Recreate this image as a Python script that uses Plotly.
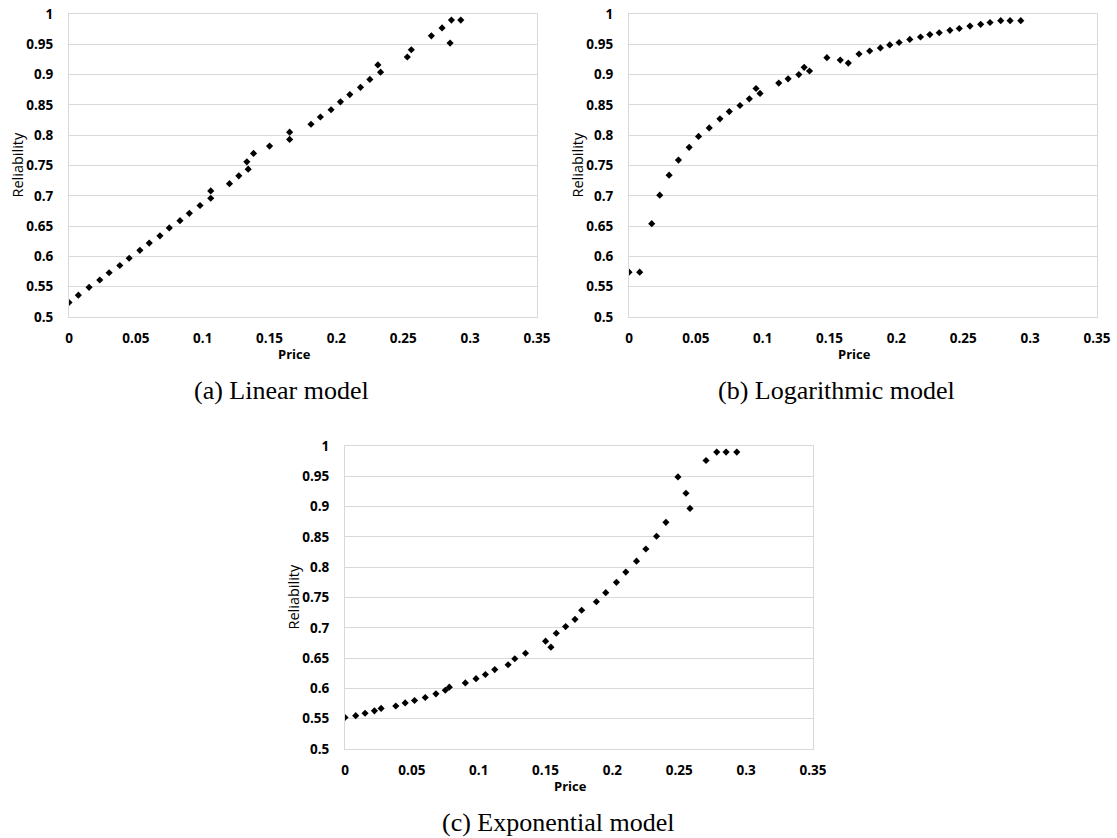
import plotly.graph_objects as go

# ---------------- data ----------------
lin_price = [0.000, 0.007, 0.015, 0.023, 0.030, 0.038, 0.045, 0.053, 0.060, 0.068,
             0.075, 0.083, 0.090, 0.098, 0.106, 0.106, 0.120, 0.127, 0.134, 0.133,
             0.138, 0.150, 0.165, 0.165, 0.181, 0.188, 0.196, 0.203, 0.210, 0.218,
             0.225, 0.231, 0.233, 0.253, 0.256, 0.271, 0.279, 0.285, 0.286, 0.293]
lin_rel = [0.524, 0.536, 0.549, 0.561, 0.573, 0.585, 0.597, 0.610, 0.622, 0.634,
           0.647, 0.659, 0.671, 0.684, 0.696, 0.708, 0.720, 0.733, 0.744, 0.756,
           0.770, 0.782, 0.805, 0.793, 0.818, 0.830, 0.842, 0.855, 0.867, 0.879,
           0.892, 0.916, 0.904, 0.929, 0.941, 0.964, 0.977, 0.952, 0.990, 0.990]

log_price = [0.000, 0.008, 0.017, 0.023, 0.030, 0.037, 0.045, 0.052, 0.060, 0.068,
             0.075, 0.083, 0.090, 0.095, 0.098, 0.112, 0.119, 0.127, 0.131, 0.135,
             0.148, 0.158, 0.164, 0.172, 0.180, 0.188, 0.195, 0.202, 0.210, 0.218,
             0.225, 0.232, 0.240, 0.247, 0.255, 0.263, 0.270, 0.278, 0.285, 0.293]
log_rel = [0.574, 0.574, 0.654, 0.701, 0.734, 0.759, 0.780, 0.798, 0.812, 0.827,
           0.839, 0.849, 0.860, 0.877, 0.869, 0.886, 0.893, 0.900, 0.912, 0.906,
           0.928, 0.924, 0.919, 0.934, 0.939, 0.944, 0.949, 0.953, 0.958, 0.962,
           0.966, 0.969, 0.973, 0.976, 0.980, 0.983, 0.986, 0.989, 0.989, 0.989]

exp_price = [0.000, 0.008, 0.015, 0.022, 0.027, 0.038, 0.045, 0.052, 0.060, 0.068,
             0.075, 0.078, 0.090, 0.098, 0.105, 0.112, 0.122, 0.127, 0.135, 0.150,
             0.154, 0.158, 0.165, 0.172, 0.177, 0.188, 0.195, 0.203, 0.210, 0.218,
             0.225, 0.233, 0.240, 0.249, 0.255, 0.258, 0.270, 0.278, 0.285, 0.293]
exp_rel = [0.552, 0.555, 0.559, 0.563, 0.567, 0.571, 0.576, 0.580, 0.585, 0.591,
           0.597, 0.602, 0.609, 0.616, 0.623, 0.631, 0.639, 0.649, 0.658, 0.678,
           0.668, 0.691, 0.702, 0.714, 0.729, 0.743, 0.758, 0.775, 0.792, 0.810,
           0.830, 0.851, 0.874, 0.949, 0.922, 0.897, 0.976, 0.990, 0.990, 0.990]

x_tick_vals = [0, 0.05, 0.1, 0.15, 0.2, 0.25, 0.3, 0.35]
x_tick_text = ["0", "0.05", "0.1", "0.15", "0.2", "0.25", "0.3", "0.35"]
y_tick_vals = [0.5, 0.55, 0.6, 0.65, 0.7, 0.75, 0.8, 0.85, 0.9, 0.95, 1]
y_tick_text = ["0.5", "0.55", "0.6", "0.65", "0.7", "0.75", "0.8", "0.85", "0.9", "0.95", "1"]

captions = ["(a) Linear model", "(b) Logarithmic model", "(c) Exponential model"]
x_title = "Price"
y_title = "Reliability"

# ---------------- layout ----------------
W, H = 1117, 838
# plot areas in pixels: (left, right, top, bottom)
areas = [(69, 537, 14, 317), (629, 1097, 14, 317), (345, 813, 446, 749)]

def px(x):
    return x / W

def py(y):
    return 1 - y / H

fig = go.Figure()
series = [(lin_price, lin_rel), (log_price, log_rel), (exp_price, exp_rel)]

tick_font = dict(family="Open Sans", size=13.5, color="#000000", weight="bold")
grid_col = "#d9d9d9"

for i, ((xs, ys), (l, r, t, b)) in enumerate(zip(series, areas)):
    n = "" if i == 0 else str(i + 1)
    fig.add_trace(go.Scatter(
        x=xs, y=ys, mode="markers",
        marker=dict(symbol="diamond", size=5.5, color="#000000"),
        xaxis="x" + n, yaxis="y" + n, showlegend=False,
    ))
    fig.layout["xaxis" + n] = dict(
        domain=[px(l), px(r)], anchor="y" + n, range=[0, 0.35],
        tickvals=x_tick_vals, ticktext=x_tick_text, tickfont=tick_font,
        showgrid=False, zeroline=False, showline=True, mirror=True,
        linecolor=grid_col, linewidth=1, ticks="", ticklabelstandoff=9,
        automargin=False, fixedrange=True,
    )
    fig.layout["yaxis" + n] = dict(
        domain=[py(b), py(t)], anchor="x" + n, range=[0.5, 1.0],
        tickvals=y_tick_vals, ticktext=y_tick_text, tickfont=tick_font,
        showgrid=True, gridcolor=grid_col, gridwidth=1, zeroline=False,
        showline=True, mirror=True, linecolor=grid_col, linewidth=1,
        ticks="", ticklabelstandoff=12, automargin=False, fixedrange=True,
    )
    cx = (l + r) / 2
    # axis titles
    fig.add_annotation(text=x_title, x=px(cx - 9), y=py(b + 37), xref="paper", yref="paper",
                       showarrow=False, xanchor="center", yanchor="middle",
                       font=dict(family="Open Sans", size=13, color="#000000", weight="bold"))
    fig.add_annotation(text=y_title, x=px(l - 52), y=py((t + b) / 2), xref="paper", yref="paper",
                       showarrow=False, xanchor="center", yanchor="middle", textangle=-90,
                       font=dict(family="Open Sans", size=14.5, color="#000000"))

caption_pos = [(281, 390), (836.5, 390), (557.5, 822)]
for cap, (cx, cy) in zip(captions, caption_pos):
    fig.add_annotation(text=cap, x=px(cx), y=py(cy), xref="paper", yref="paper",
                       showarrow=False, xanchor="center", yanchor="middle",
                       font=dict(family="Liberation Serif", size=26, color="#000000"))

fig.update_layout(
    width=W, height=H,
    margin=dict(l=0, r=0, t=0, b=0),
    paper_bgcolor="#ffffff", plot_bgcolor="#ffffff",
    showlegend=False,
)

fig.write_html("out.html", config={"displayModeBar": False})
